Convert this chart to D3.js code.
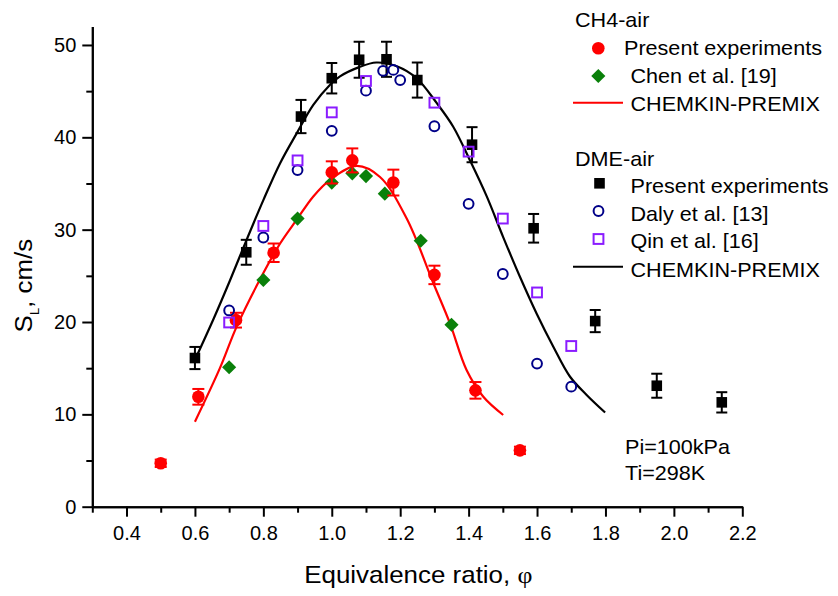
<!DOCTYPE html>
<html>
<head>
<meta charset="utf-8">
<script src="https://cdn.jsdelivr.net/npm/d3@7"></script>
<style>
  html, body { margin: 0; padding: 0; background: #fff; }
  svg { display: block; }
  text { font-family: "Liberation Sans", Arial, sans-serif; fill: #000; }
</style>
</head>
<body>
<svg id="chart" width="838" height="596"></svg>
<script>
// ---- CH4-air: present experiments (with error bars)
const ch4Phi = [0.50, 0.61, 0.72, 0.83, 1.00, 1.06, 1.18, 1.30, 1.42, 1.55];
const ch4SL  = [4.7, 11.9, 20.2, 27.5, 36.2, 37.5, 35.1, 25.1, 12.6, 6.1];
const ch4Err = [0.4, 0.85, 0.8, 1.0, 1.2, 1.3, 1.4, 1.0, 0.9, 0.4];

// ---- CH4-air: Chen et al. [19]
const chenPhi = [0.70, 0.80, 0.90, 1.00, 1.06, 1.10, 1.155, 1.26, 1.35];
const chenSL  = [15.1, 24.55, 31.2, 35.1, 36.1, 35.8, 33.9, 28.8, 19.7];

// ---- CH4-air: CHEMKIN-PREMIX
const ch4ModelPhi = [0.60, 0.673, 0.722, 0.80, 0.849, 0.897, 0.946, 0.995, 1.073, 1.141, 1.219, 1.297, 1.345, 1.394, 1.443, 1.501];
const ch4ModelSL  = [9.2, 15.0, 19.5, 25.3, 28.5, 31.05, 33.6, 35.4, 36.9, 35.7, 31.2, 24.2, 19.9, 14.8, 11.9, 9.93];

// ---- DME-air: present experiments (with error bars)
const dmePhi = [0.60, 0.75, 0.91, 1.00, 1.08, 1.16, 1.25, 1.41, 1.59, 1.77, 1.95, 2.14];
const dmeSL  = [16.1, 27.55, 42.25, 46.4, 48.4, 48.45, 46.2, 39.2, 30.15, 20.1, 13.1, 11.3];
const dmeErr = [1.2, 1.35, 1.8, 1.65, 1.95, 1.9, 1.9, 1.9, 1.55, 1.2, 1.3, 1.1];

// ---- DME-air: Daly et al. [13]
const dalyPhi = [0.70, 0.80, 0.90, 1.00, 1.10, 1.15, 1.18, 1.20, 1.30, 1.40, 1.50, 1.60, 1.70];
const dalySL  = [21.25, 29.15, 36.45, 40.7, 45.05, 47.2, 47.3, 46.2, 41.2, 32.8, 25.2, 15.5, 13.0];

// ---- DME-air: Qin et al. [16]
const qinPhi = [0.70, 0.80, 0.90, 1.00, 1.10, 1.30, 1.40, 1.50, 1.60, 1.70];
const qinSL  = [19.95, 30.4, 37.5, 42.7, 46.1, 43.75, 38.45, 31.2, 23.2, 17.4];

// ---- DME-air: CHEMKIN-PREMIX
const dmeModelPhi = [0.60, 0.654, 0.703, 0.751, 0.80, 0.849, 0.897, 0.946, 0.995, 1.024, 1.08, 1.13, 1.19, 1.248, 1.307, 1.355, 1.404, 1.453, 1.501, 1.55, 1.599, 1.648, 1.696, 1.745, 1.799];
const dmeModelSL  = [15.9, 20.3, 24.55, 28.9, 33.2, 37.2, 40.4, 43.5, 45.7, 46.6, 47.6, 48.1, 47.7, 46.4, 43.7, 41.15, 37.5, 33.6, 29.2, 24.9, 20.9, 17.3, 14.1, 12.1, 10.2];

// ---- axis ticks
const xMajorTicks = [0.4, 0.6, 0.8, 1.0, 1.2, 1.4, 1.6, 1.8, 2.0, 2.2];
const xMinorTicks = [0.3, 0.5, 0.7, 0.9, 1.1, 1.3, 1.5, 1.7, 1.9, 2.1];
const yMajorTicks = [0, 10, 20, 30, 40, 50];
const yMinorTicks = [5, 15, 25, 35, 45];

// ---- colours
const RED = "#ff0000", GREEN = "#0a800a", NAVY = "#000088", PURPLE = "#8a1cff", BLACK = "#000";

const svg = d3.select("#chart");
const x = d3.scaleLinear().domain([0.3, 2.2]).range([92.3, 742.3]);
const y = d3.scaleLinear().domain([0, 52]).range([506.7, 26.5]);

const zip = (a, b) => a.map((v, i) => [v, b[i]]);
const STRETCH = 1.08;   // horizontal widening of the label type

// ---- axes
function styleAxis(g) {
  g.selectAll("path.domain").attr("stroke", BLACK).attr("stroke-width", 2);
  g.selectAll(".tick line").attr("stroke", BLACK).attr("stroke-width", 2);
  g.selectAll(".tick text").style("font-size", "20px").attr("fill", BLACK);
}
svg.append("g").attr("transform", `translate(0,${y(0)})`)
  .call(d3.axisBottom(x).tickValues(xMinorTicks).tickSize(6).tickSizeOuter(0).tickFormat(""))
  .call(styleAxis);
svg.append("g").attr("transform", `translate(0,${y(0)})`)
  .call(d3.axisBottom(x).tickValues(xMajorTicks).tickSize(10).tickSizeOuter(0).tickPadding(9).tickFormat(d3.format(".1f")))
  .call(styleAxis);
svg.append("g").attr("transform", `translate(${x(0.3)},0)`)
  .call(d3.axisLeft(y).tickValues(yMinorTicks).tickSize(6).tickSizeOuter(0).tickFormat(""))
  .call(styleAxis);
svg.append("g").attr("transform", `translate(${x(0.3)},0)`)
  .call(d3.axisLeft(y).tickValues(yMajorTicks).tickSize(10).tickSizeOuter(0).tickPadding(6).tickFormat(d3.format("d")))
  .call(styleAxis);

// ---- axis titles
const xt = svg.append("text")
  .attr("transform", `translate(${(x(0.3) + x(2.2)) / 2 + 1},583) scale(${STRETCH},1)`)
  .attr("text-anchor", "middle").style("font-size", "24px");
xt.append("tspan").text("Equivalence ratio, ");
xt.append("tspan").style("font-family", "'Liberation Serif', 'DejaVu Serif', serif").text("φ");

const yt = svg.append("text")
  .attr("transform", `translate(32,${(y(0) + y(52)) / 2 + 19}) rotate(-90) scale(${STRETCH},1)`)
  .attr("text-anchor", "middle").style("font-size", "24px");
yt.append("tspan").text("S");
yt.append("tspan").attr("dy", 7).style("font-size", "12px").text("L");
yt.append("tspan").attr("dy", -7).text(", cm/s");

// ---- model curves
const line = d3.line().x(d => x(d[0])).y(d => y(d[1])).curve(d3.curveCatmullRom.alpha(0.5));
svg.append("path").datum(zip(dmeModelPhi, dmeModelSL))
  .attr("d", line).attr("fill", "none").attr("stroke", BLACK).attr("stroke-width", 2.2);
svg.append("path").datum(zip(ch4ModelPhi, ch4ModelSL))
  .attr("d", line).attr("fill", "none").attr("stroke", RED).attr("stroke-width", 2.2);

// ---- error bars
function errorBars(phi, sl, err, color, cap) {
  const g = svg.append("g").attr("stroke", color).attr("stroke-width", 2).attr("fill", "none");
  phi.forEach((p, i) => {
    const cx = x(p), y1 = y(sl[i] + err[i]), y2 = y(sl[i] - err[i]);
    g.append("line").attr("x1", cx).attr("x2", cx).attr("y1", y1).attr("y2", y2);
    g.append("line").attr("x1", cx - cap / 2).attr("x2", cx + cap / 2).attr("y1", y1).attr("y2", y1);
    g.append("line").attr("x1", cx - cap / 2).attr("x2", cx + cap / 2).attr("y1", y2).attr("y2", y2);
  });
}

// ---- marker shapes
const shapes = {
  diamond: (g, cx, cy) => g.append("rect").attr("x", -5).attr("y", -5).attr("width", 10).attr("height", 10)
    .attr("transform", `translate(${cx},${cy}) rotate(45)`).attr("fill", GREEN),
  dot: (g, cx, cy) => g.append("circle").attr("cx", cx).attr("cy", cy).attr("r", 6.3).attr("fill", RED),
  filledSquare: (g, cx, cy) => g.append("rect").attr("x", cx - 5.3).attr("y", cy - 5.3).attr("width", 10.6).attr("height", 10.6).attr("fill", BLACK),
  ring: (g, cx, cy) => g.append("circle").attr("cx", cx).attr("cy", cy).attr("r", 4.9).attr("fill", "none").attr("stroke", NAVY).attr("stroke-width", 2),
  openSquare: (g, cx, cy) => g.append("rect").attr("x", cx - 4.9).attr("y", cy - 4.9).attr("width", 9.8).attr("height", 9.8).attr("fill", "none").attr("stroke", PURPLE).attr("stroke-width", 2)
};
function scatter(phi, sl, shape) {
  const g = svg.append("g");
  phi.forEach((p, i) => shapes[shape](g, x(p), y(sl[i])));
}

scatter(chenPhi, chenSL, "diamond");
errorBars(ch4Phi, ch4SL, ch4Err, RED, 12);
scatter(ch4Phi, ch4SL, "dot");
errorBars(dmePhi, dmeSL, dmeErr, BLACK, 11);
scatter(dmePhi, dmeSL, "filledSquare");
scatter(dalyPhi, dalySL, "ring");
scatter(qinPhi, qinSL, "openSquare");

// ---- legend
const leg = svg.append("g");
function legText(tx, ty, str) {
  leg.append("text").attr("transform", `translate(${tx},${ty}) scale(${STRETCH},1)`)
    .style("font-size", "20px").text(str);
}
legText(575, 27, "CH4-air");
shapes.dot(leg, 598.3, 48.3);
legText(624, 55, "Present experiments");
shapes.diamond(leg, 598.3, 76);
legText(630.5, 83, "Chen et al. [19]");
leg.append("line").attr("x1", 573).attr("x2", 623).attr("y1", 102.7).attr("y2", 102.7).attr("stroke", RED).attr("stroke-width", 2);
legText(630.5, 110.5, "CHEMKIN-PREMIX");

legText(575, 165.5, "DME-air");
shapes.filledSquare(leg, 599.5, 183.3);
legText(630.5, 192.5, "Present experiments");
shapes.ring(leg, 598.5, 211);
legText(630.5, 220.5, "Daly et al. [13]");
shapes.openSquare(leg, 598.5, 239);
legText(630.5, 248.2, "Qin et al. [16]");
leg.append("line").attr("x1", 573).attr("x2", 623).attr("y1", 266.7).attr("y2", 266.7).attr("stroke", BLACK).attr("stroke-width", 2);
legText(630.5, 276.5, "CHEMKIN-PREMIX");

// ---- conditions
legText(625, 454, "Pi=100kPa");
legText(625, 480, "Ti=298K");
</script>
</body>
</html>
